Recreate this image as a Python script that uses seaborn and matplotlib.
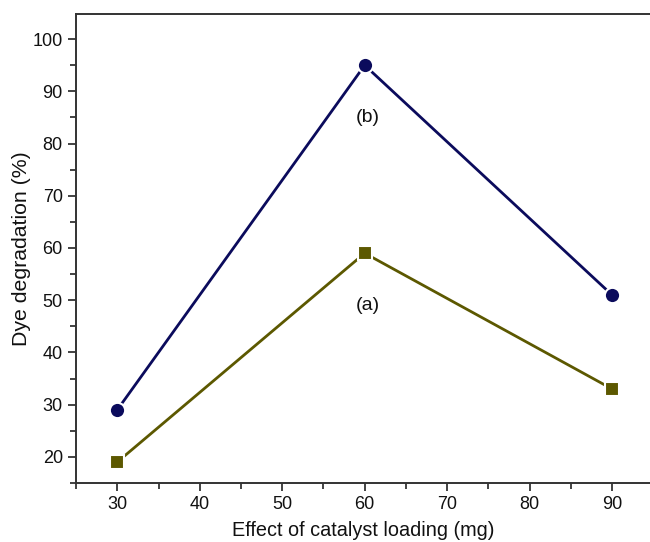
import matplotlib
matplotlib.use("Agg")
import matplotlib.pyplot as plt
import seaborn as sns
import pandas as pd
from matplotlib.ticker import MultipleLocator

loading = [30, 60, 90]
series_a = [19, 59, 33]
series_b = [29, 95, 51]

sns.set_style("ticks")
plt.rcParams['font.family'] = ['Liberation Sans', 'DejaVu Sans']

fig = plt.figure(figsize=(6.5, 5.42), dpi=100)
ax = fig.add_axes([0.117, 0.109, 0.883, 0.865])

df_a = pd.DataFrame({"x": loading, "y": series_a})
df_b = pd.DataFrame({"x": loading, "y": series_b})

sns.lineplot(data=df_b, x="x", y="y", ax=ax, color="#0b0b5c", marker="o",
             markersize=11, markeredgecolor="white", markeredgewidth=1.5,
             linewidth=2)
sns.lineplot(data=df_a, x="x", y="y", ax=ax, color="#5c5800", marker="s",
             markersize=10, markeredgecolor="white", markeredgewidth=1.5,
             linewidth=2)

ax.text(60.4, 85, "(b)", ha="center", va="center", fontsize=14, color="#111111")
ax.text(60.4, 49, "(a)", ha="center", va="center", fontsize=14, color="#111111")

ax.set_xlim(25, 94.6)
ax.set_ylim(15, 104.8)
ax.set_xticks([30, 40, 50, 60, 70, 80, 90])
ax.set_yticks([20, 30, 40, 50, 60, 70, 80, 90, 100])
ax.xaxis.set_minor_locator(MultipleLocator(5))
ax.yaxis.set_minor_locator(MultipleLocator(5))
ax.tick_params(which="major", direction="out", length=6, width=1.2, labelsize=13,
               color="#222222", labelcolor="#111111")
ax.tick_params(which="minor", direction="out", length=4, width=1.2, color="#222222")

ax.spines["right"].set_visible(False)
for s in ["left", "bottom", "top"]:
    ax.spines[s].set_linewidth(1.4)
    ax.spines[s].set_color("#333333")

ax.set_xlabel("Effect of catalyst loading (mg)", fontsize=14.3, labelpad=5.5, color="#111111")
ax.set_ylabel("Dye degradation (%)", fontsize=15.3, labelpad=1, color="#111111")

fig.savefig("out.png", dpi=100)
